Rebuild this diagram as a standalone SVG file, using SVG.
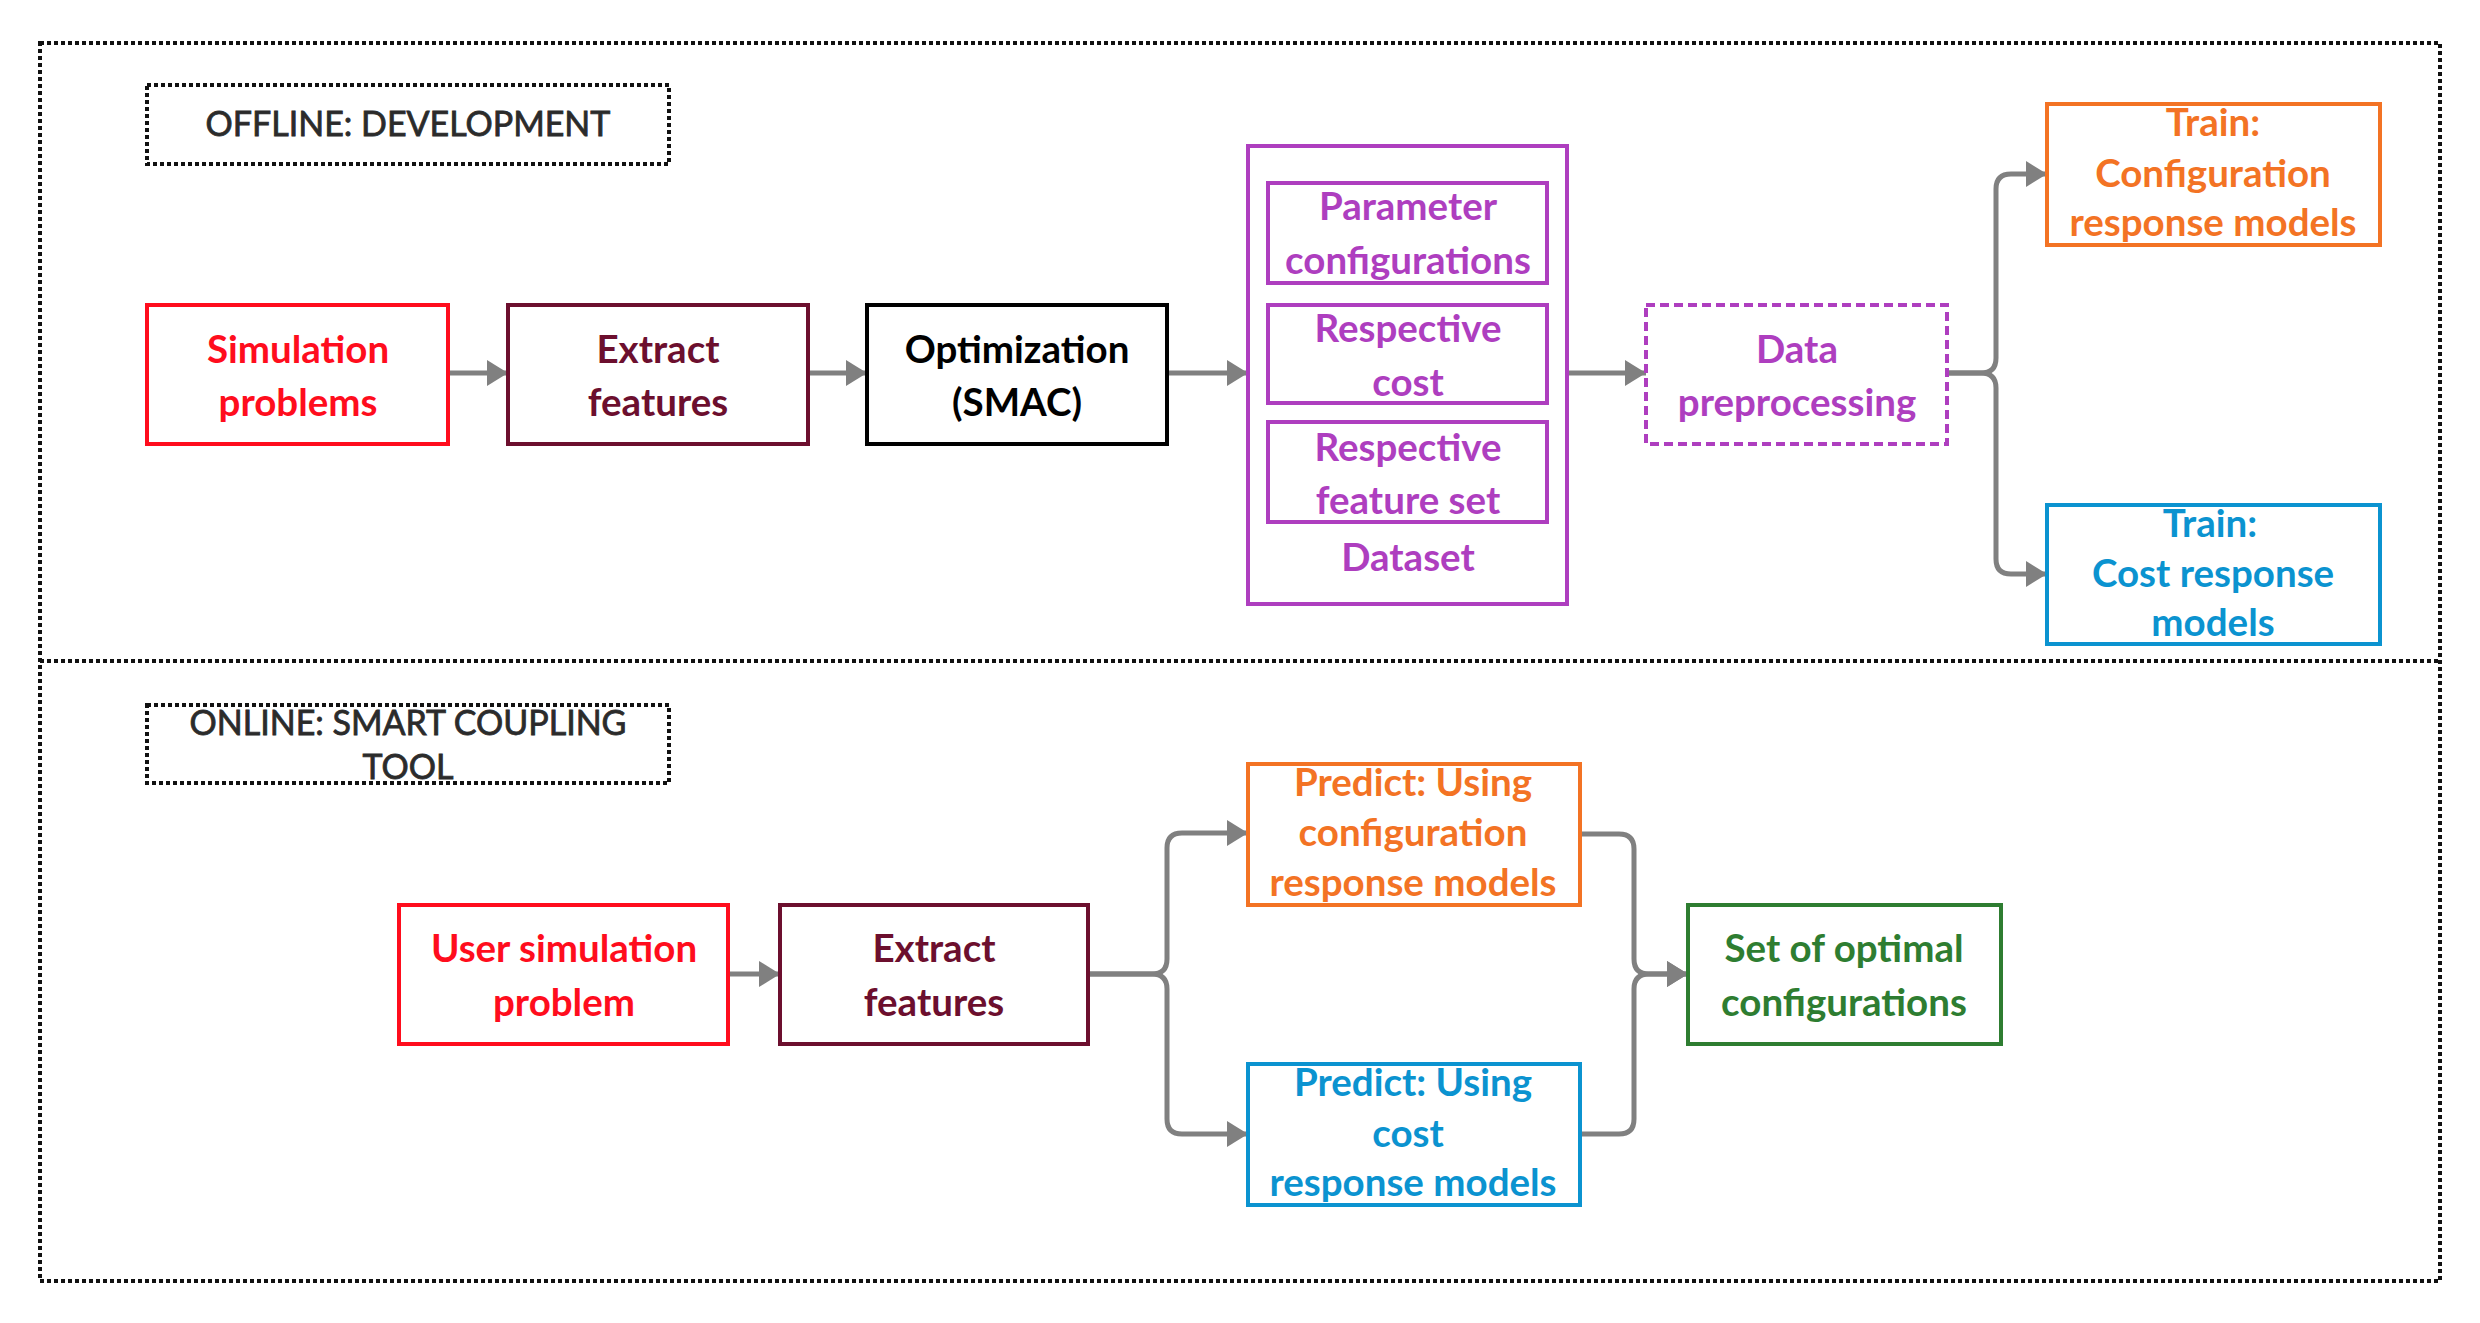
<svg xmlns="http://www.w3.org/2000/svg" width="2480" height="1323" viewBox="0 0 2480 1323">
<style>
.n{fill:#fff;stroke-width:4}
.t{font-family:Lato,"Open Sans","Liberation Sans",sans-serif;font-weight:700;font-size:38.5px;text-anchor:middle}
.lbl{font-family:Lato,"Open Sans","Liberation Sans",sans-serif;font-weight:400;font-size:34px;text-anchor:middle;fill:#2b2b2b;stroke:#2b2b2b;stroke-width:0.8}
.dot{fill:none;stroke:#111;stroke-width:4;stroke-dasharray:4 3}
.c{fill:none;stroke:#808080;stroke-width:5;marker-end:url(#ah)}
.red{stroke:#ff0d1d}.redt{fill:#ff0d1d}
.mar{stroke:#6c0f2e}.mart{fill:#6c0f2e}
.blk{stroke:#000}.blkt{fill:#000}
.pur{stroke:#ae3ebf}.purt{fill:#ae3ebf}
.org{stroke:#f37324}.orgt{fill:#f37324}
.blu{stroke:#0b93d0}.blut{fill:#0b93d0}
.grn{stroke:#2e7d31}.grnt{fill:#2e7d31}
</style>
<defs>
<marker id="ah" markerUnits="userSpaceOnUse" markerWidth="22" markerHeight="28" refX="21" refY="14" orient="auto">
<path d="M0,1 L21,14 L0,27 Z" fill="#808080"/>
</marker>
</defs>
<rect width="2480" height="1323" fill="#fff"/>
<g id="frame">
<rect class="dot" x="40" y="43" width="2400" height="1238"/>
<line class="dot" x1="40" y1="661" x2="2440" y2="661"/>
</g>
<g id="label-offline">
<rect class="dot" x="147" y="85" width="522" height="79"/>
<text class="lbl" x="408" y="136">OFFLINE: DEVELOPMENT</text>
</g>
<g id="label-online">
<rect class="dot" x="147" y="705" width="522" height="78"/>
<text class="lbl" x="408" y="735">ONLINE: SMART COUPLING</text>
<text class="lbl" x="408" y="779">TOOL</text>
</g>
<g id="connectors">
<path class="c" d="M448,373 L508,373"/>
<path class="c" d="M808,373 L867,373"/>
<path class="c" d="M1167,373 L1248,373"/>
<path class="c" d="M1567,373 L1646,373"/>
<path class="c" d="M1947,373 L1981,373 Q1996,373 1996,358 L1996,189 Q1996,174 2011,174 L2047,174"/>
<path class="c" d="M1947,373 L1981,373 Q1996,373 1996,388 L1996,559 Q1996,574 2011,574 L2047,574"/>
<path class="c" d="M728,974 L780,974"/>
<path class="c" d="M1088,974 L1152,974 Q1167,974 1167,959 L1167,848 Q1167,833 1182,833 L1248,833"/>
<path class="c" d="M1088,974 L1152,974 Q1167,974 1167,989 L1167,1119 Q1167,1134 1182,1134 L1248,1134"/>
<path class="c" d="M1580,834 L1619,834 Q1634,834 1634,849 L1634,959 Q1634,974 1649,974 L1688,974"/>
<path class="c" d="M1580,1134 L1619,1134 Q1634,1134 1634,1119 L1634,989 Q1634,974 1649,974 L1688,974"/>
</g>
<g id="sim-problems">
<rect class="n red" x="147" y="305" width="301" height="139"/>
<text class="t redt" x="298" y="363">Simulation</text>
<text class="t redt" x="298" y="416">problems</text>
</g>
<g id="extract-features">
<rect class="n mar" x="508" y="305" width="300" height="139"/>
<text class="t mart" x="658" y="363">Extract</text>
<text class="t mart" x="658" y="416">features</text>
</g>
<g id="optimization">
<rect class="n blk" x="867" y="305" width="300" height="139"/>
<text class="t blkt" x="1017" y="363">Optimization</text>
<text class="t blkt" x="1017" y="416">(SMAC)</text>
</g>
<g id="dataset">
<rect class="n pur" x="1248" y="146" width="319" height="458"/>
<rect class="n pur" x="1268" y="183" width="279" height="100"/>
<text class="t purt" x="1408" y="220">Parameter</text>
<text class="t purt" x="1408" y="274">configurations</text>
<rect class="n pur" x="1268" y="305" width="279" height="98"/>
<text class="t purt" x="1408" y="342">Respective</text>
<text class="t purt" x="1408" y="396">cost</text>
<rect class="n pur" x="1268" y="422" width="279" height="100"/>
<text class="t purt" x="1408" y="461">Respective</text>
<text class="t purt" x="1408" y="514">feature set</text>
<text class="t purt" x="1408" y="571">Dataset</text>
</g>
<g id="data-preprocessing">
<rect class="n pur" x="1646" y="305" width="301" height="139" stroke-dasharray="9 5"/>
<text class="t purt" x="1797" y="363">Data</text>
<text class="t purt" x="1797" y="416">preprocessing</text>
</g>
<g id="train-config">
<rect class="n org" x="2047" y="104" width="333" height="141"/>
<text class="t orgt" x="2213" y="136">Train:</text>
<text class="t orgt" x="2213" y="187">Configuration</text>
<text class="t orgt" x="2213" y="236">response models</text>
</g>
<g id="train-cost">
<rect class="n blu" x="2047" y="505" width="333" height="139"/>
<text class="t blut" x="2210" y="537">Train:</text>
<text class="t blut" x="2213" y="587">Cost response</text>
<text class="t blut" x="2213" y="636">models</text>
</g>
<g id="user-sim">
<rect class="n red" x="399" y="905" width="329" height="139"/>
<text class="t redt" x="564" y="962">User simulation</text>
<text class="t redt" x="564" y="1016">problem</text>
</g>
<g id="extract-features-2">
<rect class="n mar" x="780" y="905" width="308" height="139"/>
<text class="t mart" x="934" y="962">Extract</text>
<text class="t mart" x="934" y="1016">features</text>
</g>
<g id="predict-config">
<rect class="n org" x="1248" y="764" width="332" height="141"/>
<text class="t orgt" x="1413" y="796">Predict: Using</text>
<text class="t orgt" x="1413" y="846">configuration</text>
<text class="t orgt" x="1413" y="896">response models</text>
</g>
<g id="predict-cost">
<rect class="n blu" x="1248" y="1064" width="332" height="141"/>
<text class="t blut" x="1413" y="1096">Predict: Using</text>
<text class="t blut" x="1408" y="1147">cost</text>
<text class="t blut" x="1413" y="1196">response models</text>
</g>
<g id="optimal-set">
<rect class="n grn" x="1688" y="905" width="313" height="139"/>
<text class="t grnt" x="1844" y="962">Set of optimal</text>
<text class="t grnt" x="1844" y="1016">configurations</text>
</g>
</svg>
